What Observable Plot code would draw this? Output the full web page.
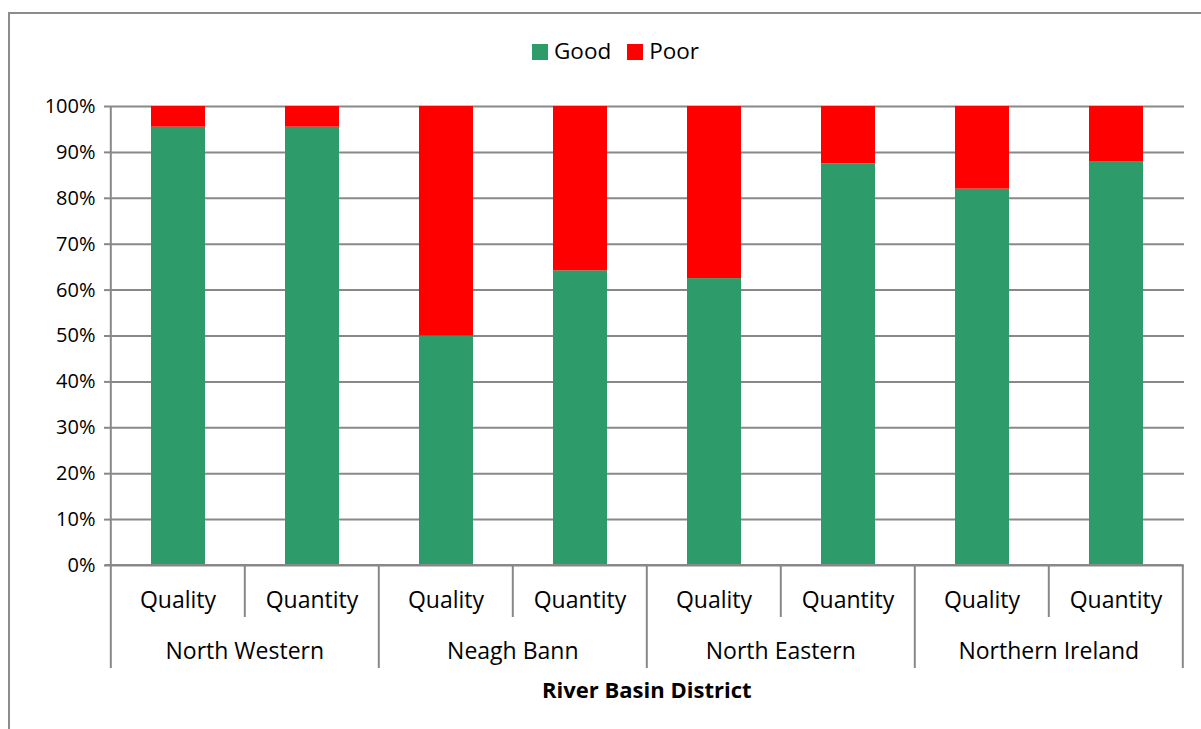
<!DOCTYPE html>
<html>
<head>
<meta charset="utf-8">
<script src="https://cdn.jsdelivr.net/npm/d3@7"></script>
<script src="https://cdn.jsdelivr.net/npm/@observablehq/plot@0.6"></script>
<style>
  html, body { margin: 0; padding: 0; background: #fff; }
  #wrap { position: relative; width: 1201px; height: 729px; overflow: hidden; font-family: "Open Sans", "Liberation Sans", sans-serif; }
  #border { position: absolute; left: 8px; top: 12px; width: 1300px; height: 900px; border: 2px solid #8c8c8c; box-sizing: border-box; }
  #legend { position: absolute; left: 0; top: 36px; width: 1201px; text-align: center; font-size: 22.5px; color: #000; line-height: 30px; padding-left: 30px; box-sizing: border-box; }
  #legend span.sw { display: inline-block; width: 16px; height: 16px; vertical-align: -1px; margin-right: 6px; }
  #legend span.item { margin: 0 8px; }
  #chart { position: absolute; left: 0; top: 80px; }
</style>
</head>
<body>
<div id="wrap">
  <div id="border"></div>
  <div id="legend"></div>
  <div id="chart"></div>
</div>
<script>
const districts = ["North Western", "Neagh Bann", "North Eastern", "Northern Ireland"];
const measures = ["Quality", "Quantity"];
// Share of "Good" status (%), in order district × measure
const goodPct = [95.5, 95.5, 50.0, 64.2, 62.5, 87.5, 82.0, 88.0];
const statuses = ["Good", "Poor"];
const colors = ["#2e9b6a", "#ff0000"];
const yTicks = [0, 10, 20, 30, 40, 50, 60, 70, 80, 90, 100];
const axisTitle = "River Basin District";

const FONT = "'Open Sans', 'Liberation Sans', sans-serif";
const keys = [];
const rows = [];
districts.forEach((d, i) => measures.forEach((m, j) => {
  const key = d + "|" + m;
  keys.push(key);
  const g = goodPct[i * 2 + j];
  rows.push({key, district: d, measure: m, status: "Good", value: g / 100});
  rows.push({key, district: d, measure: m, status: "Poor", value: (100 - g) / 100});
}));

// legend
const legend = document.getElementById("legend");
legend.innerHTML = statuses.map((s, i) =>
  `<span class="item"><span class="sw" style="background:${colors[i]}"></span>${s}</span>`).join("");

const H = 649;
const chart = Plot.plot({
  width: 1201,
  height: H,
  marginTop: 26,
  marginLeft: 110,
  marginRight: 17,
  marginBottom: H - 485,
  style: {fontFamily: FONT, fontSize: "20px", color: "#000", background: "transparent"},
  x: {domain: keys, paddingInner: 0.6, paddingOuter: 0.3, axis: null},
  y: {domain: [0, 1], axis: null},
  color: {domain: statuses, range: colors},
  marks: [
    Plot.gridY(yTicks.map(t => t / 100), {stroke: "#888", strokeOpacity: 1, strokeWidth: 2}),
    Plot.barY(rows, Plot.stackY({x: "key", y: "value", fill: "status", order: statuses})),
    Plot.axisY(yTicks.map(t => t / 100), {label: null, tickFormat: d3.format(".0%"), tickSize: 6, tickPadding: 9, stroke: "#888", strokeWidth: 2, fontSize: 20, fill: "#000"})
  ]
});
document.getElementById("chart").appendChild(chart);

// Hierarchical category axis, built from the plot's own x scale
const xs = chart.scale("x");
const ys = chart.scale("y");
const svg = d3.select(chart);
const step = xs.step;
const x0 = xs.apply(keys[0]) - xs.paddingOuter * step;
const y0 = ys.apply(0), y1 = ys.apply(1);
const g = svg.append("g").attr("stroke", "#888").attr("stroke-width", 2);
// y axis line and baseline
g.append("line").attr("x1", x0).attr("x2", x0).attr("y1", y1).attr("y2", y0);
g.append("line").attr("x1", x0 - 6).attr("x2", x0 + keys.length * step).attr("y1", y0).attr("y2", y0);
// separators
keys.forEach((k, i) => {
  const xb = x0 + i * step;
  const major = i % measures.length === 0;
  g.append("line").attr("x1", xb).attr("x2", xb).attr("y1", y0).attr("y2", y0 + (major ? 103 : 52));
});
{
  const xb = x0 + keys.length * step;
  g.append("line").attr("x1", xb).attr("x2", xb).attr("y1", y0).attr("y2", y0 + 103);
}
const t = svg.append("g").attr("fill", "#000").attr("text-anchor", "middle")
  .style("font-family", FONT).style("font-size", "23px");
keys.forEach((k) => {
  t.append("text").attr("x", xs.apply(k) + xs.bandwidth / 2).attr("y", y0 + 43).text(k.split("|")[1]);
});
districts.forEach((d, i) => {
  t.append("text").attr("x", x0 + (i * 2 + 1) * step).attr("y", y0 + 94).text(d);
});
t.append("text").attr("x", x0 + keys.length * step / 2).attr("y", y0 + 133)
  .attr("font-weight", "bold").style("font-size", "22px").text(axisTitle);
</script>
</body>
</html>
